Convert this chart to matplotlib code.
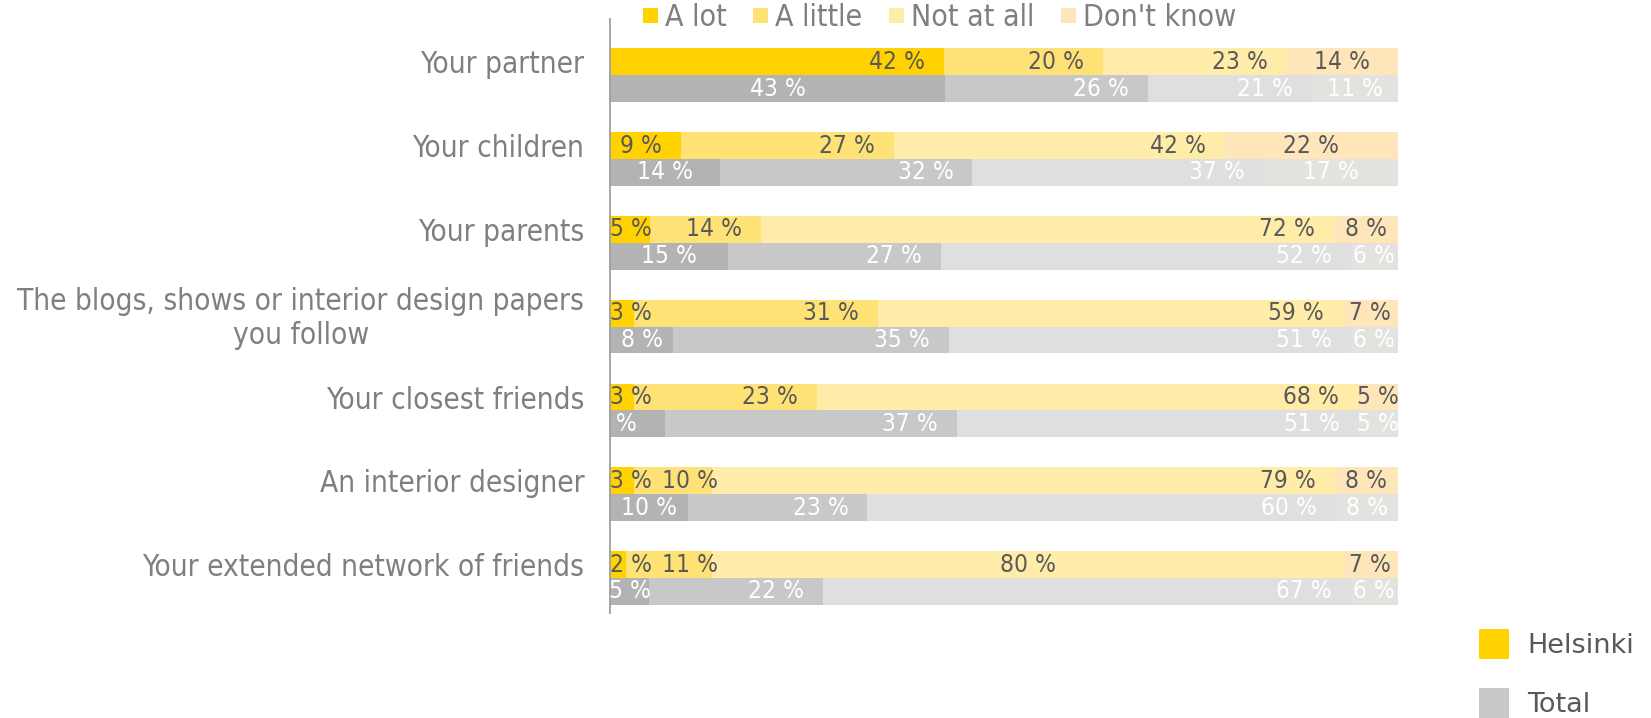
import matplotlib.pyplot as plt
from matplotlib.patches import Patch
from matplotlib import font_manager
import numpy as np

# Data (percent of respondents, as printed on the bars)
categories = ['Your partner', 'Your children', 'Your parents',
              'The blogs, shows or interior design papers\nyou follow',
              'Your closest friends', 'An interior designer',
              'Your extended network of friends']
answers = ['A lot', 'A little', 'Not at all', "Don't know"]

helsinki_a_lot = [42, 9, 5, 3, 3, 3, 2]
helsinki_a_little = [20, 27, 14, 31, 23, 10, 11]
helsinki_not_at_all = [23, 42, 72, 59, 68, 79, 80]
helsinki_dont_know = [14, 22, 8, 7, 5, 8, 7]

total_a_lot = [43, 14, 15, 8, 7, 10, 5]
total_a_little = [26, 32, 27, 35, 37, 23, 22]
total_not_at_all = [21, 37, 52, 51, 51, 60, 67]
total_dont_know = [11, 17, 6, 6, 5, 8, 6]

helsinki = np.array([helsinki_a_lot, helsinki_a_little,
                     helsinki_not_at_all, helsinki_dont_know], dtype=float).T
total = np.array([total_a_lot, total_a_little,
                  total_not_at_all, total_dont_know], dtype=float).T

# Colors
helsinki_colors = ['#FFD200', '#FFE275', '#FFECA8', '#FFE6BA']
total_colors = ['#B3B3B3', '#C8C8C8', '#DFDFDF', '#E3E2DE']
grey_text = '#7F7F7F'

# condensed font for the chart texts if it is installed
cond = font_manager.FontProperties(family='DejaVu Sans', stretch='condensed')
has_cond = 'Condensed' in font_manager.findfont(cond, fallback_to_default=True)
stretch = 'condensed' if has_cond else 'normal'
k = 1 / 0.9 if has_cond else 1.0


def square(px, fs_pt):
    # legend handleheight that gives a square of px pixels
    fs = fs_pt * 100 / 72
    return px / fs, (px / fs - 0.245) / 0.65


fig = plt.figure(figsize=(16.51, 7.18), dpi=100)
ax = fig.add_axes([610 / 1651, 1 - 613 / 718, 788 / 1651, 594 / 718])

n = len(categories)
y = np.arange(n)
h = 0.32
off = 0.16

for data, colors, dy in [(helsinki, helsinki_colors, -off), (total, total_colors, off)]:
    share = data / data.sum(axis=1, keepdims=True) * 100
    left = np.zeros(n)
    for j in range(4):
        ax.barh(y + dy, share[:, j], left=left, height=h, color=colors[j],
                edgecolor='none')
        left += share[:, j]

ax.set_xlim(0, 100)
ax.set_ylim(n - 1 + 0.418, -0.672)

ax.set_yticks(y - off)
ax.set_yticklabels(categories, fontsize=19.2 * k, color=grey_text, fontstretch=stretch)
for lbl in ax.get_yticklabels():
    lbl.set_multialignment('center')
ax.tick_params(axis='y', length=0, pad=18.5)
ax.xaxis.set_visible(False)
for s in ['top', 'right', 'bottom']:
    ax.spines[s].set_visible(False)
ax.spines['left'].set_color('#9F9F9F')
ax.spines['left'].set_linewidth(1.3)

# Data labels: 'end' = inside end, 'center' = middle of the segment
helsinki_pos = ['end', 'end', 'end', 'center']
total_pos = ['center', 'end', 'end', 'center']
overrides = {('h', 6, 2): 'center', ('t', 4, 0): 'far'}

fig.canvas.draw()
r = fig.canvas.get_renderer()
px_unit = ax.transData.transform((1, 0))[0] - ax.transData.transform((0, 0))[0]
pad = 19 / px_unit
gap = 10 / px_unit

for key, data, dy, pos, tcolor, shift in [('h', helsinki, -off, helsinki_pos, '#595959', True),
                                          ('t', total, off, total_pos, 'white', False)]:
    share = data / data.sum(axis=1, keepdims=True) * 100
    for i in range(n):
        lefts = np.concatenate([[0], np.cumsum(share[i])[:-1]])
        prev_right = -1e9
        for j in range(4):
            t = ax.text(0, y[i] + dy, f'{int(data[i, j])} %', ha='center', va='center',
                        color=tcolor, fontsize=15.8 * k, fontstretch=stretch, clip_on=True)
            w = t.get_window_extent(r).width / px_unit
            mode = overrides.get((key, i, j), pos[j])
            end = lefts[j] + share[i, j]
            if mode == 'end':
                c = end - pad - w / 2
            elif mode == 'far':
                c = end - 1.5 * pad - w / 2
            else:
                c = lefts[j] + share[i, j] / 2
            if shift:
                c = max(c, w / 2, prev_right + gap + w / 2)
            prev_right = c + w / 2
            t.set_x(c)

# Top legend (answers)
top_handles = [Patch(facecolor=c, edgecolor='none') for c in helsinki_colors]
fs_top = 19.5 * k
hl, hh = square(15, fs_top)
fig.legend(top_handles, answers, loc='center left',
           bbox_to_anchor=(643 / 1651, 1 - 18 / 718), ncol=4, frameon=False,
           borderpad=0, borderaxespad=0,
           handlelength=hl, handleheight=hh,
           handletextpad=0.23, columnspacing=0.88, labelcolor=grey_text,
           prop={'stretch': stretch, 'size': fs_top})

# Bottom right legend (groups)
grp_handles = [Patch(facecolor='#FFD200', edgecolor='none'),
               Patch(facecolor='#C8C8C8', edgecolor='none')]
hl, hh = square(30, 19.5)
fig.legend(grp_handles, ['Helsinki', 'Total'], loc='upper left',
           bbox_to_anchor=(1479 / 1651, 1 - 629 / 718), frameon=False,
           borderpad=0, borderaxespad=0, fontsize=19.5,
           handlelength=hl, handleheight=hh, handletextpad=0.67,
           labelspacing=1.08, labelcolor='#595959')

fig.savefig('out.png', dpi=100)
